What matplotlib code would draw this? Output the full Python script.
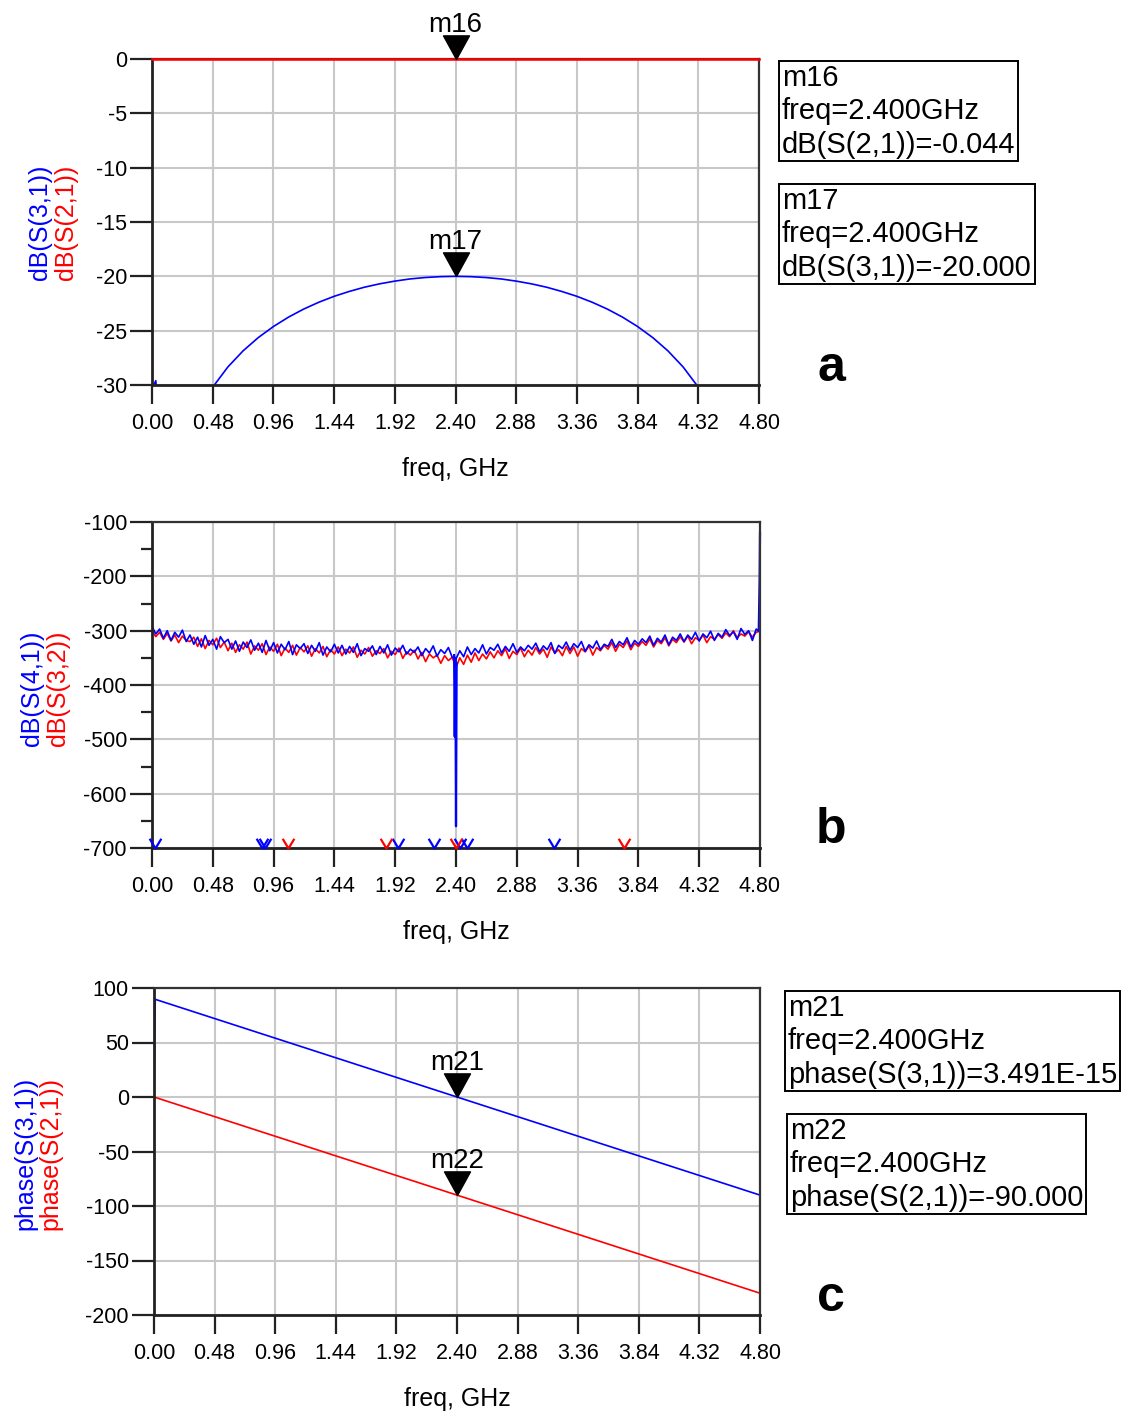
import numpy as np
import matplotlib
matplotlib.use("Agg")
import matplotlib.pyplot as plt
from matplotlib.path import Path

plt.rcParams['font.family'] = ['Liberation Sans', 'DejaVu Sans']
plt.rcParams['axes.unicode_minus'] = False

BLUE = '#0000ff'
RED = '#ff0000'

# ---- data ----------------------------------------------------------------
xticks = [0.00, 0.48, 0.96, 1.44, 1.92, 2.40, 2.88, 3.36, 3.84, 4.32, 4.80]

# panel a : dB(S(2,1)) and dB(S(3,1))
a_s21_freq = [0.0, 2.4, 4.8]
a_s21_db = [-0.044, -0.044, -0.044]
a_s31_freq = [0.00, 0.03, 0.12, 0.24, 0.36, 0.48, 0.60, 0.72, 0.84, 0.96, 1.08, 1.20,
              1.32, 1.44, 1.56, 1.68, 1.80, 1.92, 2.04, 2.16, 2.28, 2.40,
              2.52, 2.64, 2.76, 2.88, 3.00, 3.12, 3.24, 3.36, 3.48, 3.60,
              3.72, 3.84, 3.96, 4.08, 4.20, 4.32, 4.44, 4.56, 4.68, 4.80]
a_s31_db = [-30.4, -29.6, -42.0, -36.1, -32.6, -30.2, -28.34, -26.86, -25.64, -24.62, -23.75, -23.01,
            -22.38, -21.84, -21.39, -21.00, -20.69, -20.44, -20.24, -20.11, -20.03, -20.00,
            -20.03, -20.11, -20.24, -20.44, -20.69, -21.00, -21.39, -21.84, -22.38, -23.01,
            -23.75, -24.62, -25.64, -26.86, -28.34, -30.2, -32.6, -36.1, -42.0, -60.0]

# panel b : isolation noise floor (0 .. 4.8 GHz, 0.03 GHz step)
b_s41_db = [
    -292, -306, -297, -314, -300, -318, -303, -312, -299, -320,
    -308, -325, -312, -330, -309, -327, -316, -334, -311, -322,
    -316, -334, -319, -338, -321, -331, -317, -336, -323, -340,
    -318, -337, -322, -341, -325, -335, -320, -344, -326, -333,
    -324, -342, -327, -338, -322, -345, -330, -339, -325, -341,
    -327, -343, -329, -340, -324, -346, -333, -338, -328, -344,
    -329, -341, -326, -345, -332, -339, -327, -343, -334, -340,
    -330, -346, -333, -341, -328, -347, -335, -342, -331, -349,
    -352, -337, -348, -330, -344, -333, -341, -326, -343, -331,
    -336, -325, -341, -329, -338, -324, -340, -330, -337, -327,
    -334, -323, -339, -328, -335, -322, -342, -327, -333, -321,
    -336, -324, -331, -320, -338, -326, -332, -319, -335, -325,
    -329, -316, -331, -320, -326, -313, -330, -318, -325, -315,
    -322, -310, -327, -314, -321, -308, -326, -312, -318, -306,
    -320, -308, -316, -303, -319, -306, -313, -301, -318, -305,
    -312, -298, -309, -302, -316, -296, -307, -300, -318, -297,
    -302]
b_s32_db = [
    -300, -311, -303, -316, -305, -319, -308, -322, -310, -318,
    -320, -312, -329, -315, -333, -318, -326, -314, -331, -321,
    -337, -323, -340, -326, -334, -321, -343, -328, -336, -324,
    -344, -330, -338, -325, -346, -332, -340, -327, -345, -331,
    -339, -328, -347, -333, -341, -329, -348, -335, -343, -330,
    -346, -334, -341, -330, -349, -336, -343, -331, -347, -337,
    -342, -333, -350, -338, -344, -332, -351, -339, -345, -336,
    -352, -340, -357, -343, -350, -345, -360, -346, -355, -349,
    -368, -350, -362, -345, -358, -341, -355, -343, -352, -339,
    -350, -337, -346, -333, -351, -338, -344, -332, -348, -336,
    -345, -331, -343, -334, -349, -330, -341, -335, -346, -329,
    -342, -330, -347, -333, -339, -328, -345, -331, -337, -327,
    -334, -322, -338, -325, -331, -319, -335, -323, -329, -320,
    -327, -315, -330, -318, -324, -313, -328, -316, -322, -311,
    -321, -310, -324, -313, -318, -308, -322, -311, -316, -307,
    -314, -304, -311, -300, -313, -306, -310, -302, -312, -303,
    -301]
b_freq = np.linspace(0.0, 4.8, len(b_s41_db))
# spikes of S(4,1)
b_spike_freq = [2.385, 2.39, 2.395, 2.40, 2.405]
b_spike_db = [-345, -495, -350, -660, -360]
b_edge_freq = [4.79, 4.797, 4.80]
b_edge_db = [-300, -205, -120]
# frequencies where the value is -inf (drawn at the bottom edge)
b_s41_inf = [0.02, 0.87, 0.89, 1.94, 2.23, 2.43, 2.49, 3.17]
b_s32_inf = [1.07, 1.85, 2.40, 3.73]

# panel c : phases
c_s31_freq = [0.0, 0.01, 2.4, 4.8]
c_s31_deg = [0.0, 89.6, 0.0, -90.0]
c_s21_freq = [0.0, 2.4, 4.8]
c_s21_deg = [0.0, -90.0, -180.0]

markers = [
    # axis, name, freq, value
    (0, 'm16', 2.4, -0.044),
    (0, 'm17', 2.4, -20.0),
    (2, 'm21', 2.4, 0.0),
    (2, 'm22', 2.4, -90.0),
]
readouts = [
    ("m16\nfreq=2.400GHz\ndB(S(2,1))=-0.044", 782, 64),
    ("m17\nfreq=2.400GHz\ndB(S(3,1))=-20.000", 782, 187),
    ("m21\nfreq=2.400GHz\nphase(S(3,1))=3.491E-15", 788, 994),
    ("m22\nfreq=2.400GHz\nphase(S(2,1))=-90.000", 790, 1117),
]

# ---- figure --------------------------------------------------------------
W, H = 1127, 1411
fig = plt.figure(figsize=(W / 100, H / 100), dpi=100)

def box(x0, x1, ytop, ybot):
    return [x0 / W, 1 - ybot / H, (x1 - x0) / W, (ybot - ytop) / H]

ax_a = fig.add_axes(box(152, 759, 59, 385))
ax_b = fig.add_axes(box(152, 760, 522, 848))
ax_c = fig.add_axes(box(154, 760, 988, 1315))
axes = [ax_a, ax_b, ax_c]

for ax in axes:
    ax.set_xlim(0, 4.8)
    ax.set_xticks(xticks)
    ax.set_xticklabels([f"{t:.2f}" for t in xticks])
    ax.grid(True, color='#c8c8c8', lw=1.5)
    ax.set_axisbelow(True)
    for side in ['left', 'bottom']:
        ax.spines[side].set_linewidth(2.0)
        ax.spines[side].set_color('#222222')
    for side in ['top', 'right']:
        ax.spines[side].set_linewidth(1.6)
        ax.spines[side].set_color('#333333')
    ax.tick_params(axis='y', direction='out', length=16, width=1.6, pad=2,
                   labelsize=15.5, color='#222222')
    ax.tick_params(axis='x', direction='out', length=14, width=1.6, pad=6,
                   labelsize=15.5, color='#222222')
    ax.set_xlabel('freq, GHz', fontsize=18, labelpad=17)

# panel a
ax_a.set_ylim(-30, 0)
ax_a.set_yticks(np.arange(-30, 1, 5))
ax_a.plot(a_s31_freq, a_s31_db, color=BLUE, lw=1.2)
ax_a.plot(a_s21_freq, a_s21_db, color=RED, lw=1.8, clip_on=False, zorder=5)

# panel b
ax_b.set_ylim(-700, -100)
ax_b.set_yticks(np.arange(-700, -99, 100))
ax_b.set_yticks(np.arange(-650, -100, 100), minor=True)
ax_b.tick_params(axis='y', which='minor', direction='out', length=8, width=1.6,
                 color='#222222')
ax_b.plot(b_freq, b_s32_db, color=RED, lw=1.2)
ax_b.plot(b_freq, b_s41_db, color=BLUE, lw=1.2)
ax_b.plot(b_spike_freq, b_spike_db, color=BLUE, lw=1.6)
ax_b.plot(b_edge_freq, b_edge_db, color=BLUE, lw=1.6, clip_on=False)

chevron = Path([(-0.6, 1.0), (0, 0), (0.6, 1.0)],
               [Path.MOVETO, Path.LINETO, Path.LINETO])
ax_b.plot(b_s41_inf, [-700] * len(b_s41_inf), ls='none', marker=chevron,
          ms=14, mfc='none', mec=BLUE, mew=1.6, clip_on=False, zorder=6)
ax_b.plot(b_s32_inf, [-700] * len(b_s32_inf), ls='none', marker=chevron,
          ms=14, mfc='none', mec=RED, mew=1.6, clip_on=False, zorder=6)

# panel c
ax_c.set_ylim(-200, 100)
ax_c.set_yticks(np.arange(-200, 101, 50))
ax_c.plot(c_s31_freq, c_s31_deg, color=BLUE, lw=1.2)
ax_c.plot(c_s21_freq, c_s21_deg, color=RED, lw=1.2)

# marker triangles (tip at the data point)
tri = Path([(0, 0), (-0.55, 1.0), (0.55, 1.0), (0, 0)],
           [Path.MOVETO, Path.LINETO, Path.LINETO, Path.CLOSEPOLY])
for idx, name, f, v in markers:
    ax = axes[idx]
    ax.plot([f], [v], marker=tri, ms=34, color='black', ls='none',
            clip_on=False, zorder=8)
    ax.annotate(name, (f, v), xytext=(0, 19.5), textcoords='offset points',
                ha='center', va='baseline', fontsize=20, zorder=9,
                annotation_clip=False)

# marker readout boxes
for txt, x, y in readouts:
    fig.text(x / W, 1 - y / H, txt, ha='left', va='top', fontsize=21,
             linespacing=1.24,
             bbox=dict(boxstyle='square,pad=0.1', fc='white', ec='black', lw=1.4))

# y labels (two traces per axis)
ylabels = [
    ('dB(S(3,1))', 'dB(S(2,1))', 40, 66, 222),
    ('dB(S(4,1))', 'dB(S(3,2))', 32, 58, 688),
    ('phase(S(3,1))', 'phase(S(2,1))', 25, 50, 1153),
]
for lb, lr, xb, xr, yc in ylabels:
    fig.text(xb / W, 1 - yc / H, lb, rotation=90, color=BLUE, fontsize=18,
             ha='center', va='center')
    fig.text(xr / W, 1 - yc / H, lr, rotation=90, color=RED, fontsize=18,
             ha='center', va='center')

# panel letters
for letter, y in [('a', 368), ('b', 830), ('c', 1298)]:
    fig.text(831 / W, 1 - y / H, letter, fontsize=36, fontweight='bold',
             ha='center', va='center')

fig.savefig('out.png', dpi=100)
